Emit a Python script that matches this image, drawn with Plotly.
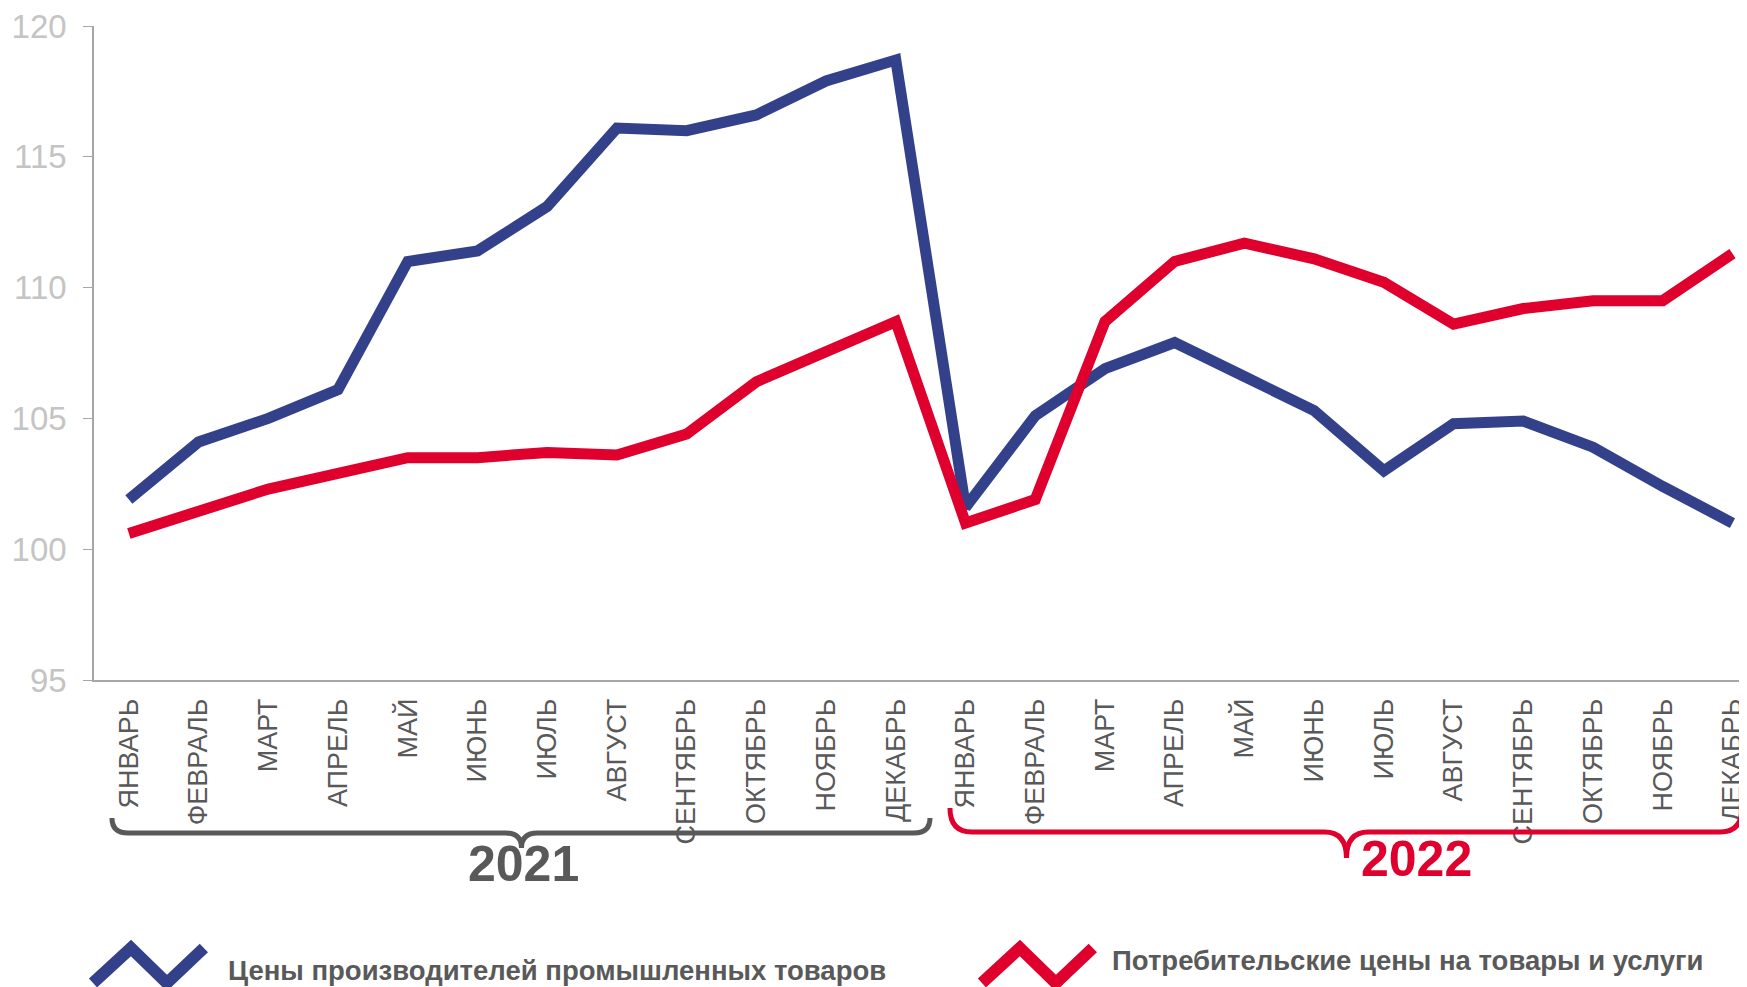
import plotly.graph_objects as go

months = ['ЯНВАРЬ', 'ФЕВРАЛЬ', 'МАРТ', 'АПРЕЛЬ', 'МАЙ', 'ИЮНЬ', 'ИЮЛЬ',
          'АВГУСТ', 'СЕНТЯБРЬ', 'ОКТЯБРЬ', 'НОЯБРЬ', 'ДЕКАБРЬ']
years = ['2021', '2022']
tick_labels = months * len(years)
x_idx = list(range(len(tick_labels)))

producer_prices = [101.9, 104.1, 105.0, 106.1, 111.0, 111.4, 113.1, 116.1, 116.0, 116.6, 117.9, 118.7,
                   101.6, 105.1, 106.9, 107.9, 106.6, 105.3, 103.0, 104.8, 104.9, 103.9, 102.4, 101.0]
consumer_prices = [100.6, 101.5, 102.3, 102.9, 103.5, 103.5, 103.7, 103.6, 104.4, 106.4, 107.6, 108.7,
                   101.0, 101.9, 108.7, 111.0, 111.7, 111.1, 110.2, 108.6, 109.2, 109.5, 109.5, 111.3]

BLUE = '#33418a'
RED = '#e0002d'
GRAY = '#595959'

# page body has an 8px margin, so the figure is drawn 8px in from the corner
OFF = 8
W, H = 1739, 979
L, R, T, B = 86, 0, 18, 307


def px(x):
    return (x - OFF - L) / (W - L - R)


def py(y):
    return (H - B - (y - OFF)) / (H - T - B)


def brace(x0, x1, xm, ytop, yline, ytip, r=16):
    # curly brace opening upward, in page pixels
    return (f'M {px(x0)},{py(ytop)} '
            f'Q {px(x0)},{py(yline)} {px(x0 + r)},{py(yline)} '
            f'L {px(xm - r)},{py(yline)} '
            f'Q {px(xm)},{py(yline)} {px(xm)},{py(ytip)} '
            f'Q {px(xm)},{py(yline)} {px(xm + r)},{py(yline)} '
            f'L {px(x1 - r)},{py(yline)} '
            f'Q {px(x1)},{py(yline)} {px(x1)},{py(ytop)}')


def zigzag(x0, y0):
    pts = [(x0, y0), (x0 + 38, y0 - 35), (x0 + 74, y0), (x0 + 111, y0 - 35)]
    return 'M ' + ' L '.join(f'{px(a)},{py(b)}' for a, b in pts)


def label(text, x, y, size, color, xanchor='center'):
    return dict(text=text, xref='paper', yref='paper', x=px(x), y=py(y),
                xanchor=xanchor, yanchor='middle', showarrow=False,
                font=dict(size=size, color=color))


fig = go.Figure([
    go.Scatter(x=x_idx, y=producer_prices, mode='lines',
               line=dict(color=BLUE, width=11), showlegend=False),
    go.Scatter(x=x_idx, y=consumer_prices, mode='lines',
               line=dict(color=RED, width=11), showlegend=False),
])

fig.update_layout(
    width=W, height=H,
    margin=dict(l=L, r=R, t=T, b=B),
    plot_bgcolor='white', paper_bgcolor='white',
    font=dict(family='Liberation Sans, Arial, sans-serif', color=GRAY),
    xaxis=dict(
        range=[-0.5, 23.18], tickvals=x_idx, ticktext=tick_labels,
        tickangle=-90, tickfont=dict(size=27, color=GRAY),
        showgrid=False, zeroline=False, showline=True,
        linecolor='#a6a6a6', linewidth=1.5, ticks='', ticklabelstandoff=6,
        ticklabeloverflow='allow',
    ),
    yaxis=dict(
        range=[95, 120], dtick=5, tickfont=dict(size=33, color='#c4c4c4'),
        showgrid=False, zeroline=False, showline=True,
        linecolor='#a6a6a6', linewidth=1.5, ticks='outside', ticklen=9,
        tickcolor='#a6a6a6', ticklabelstandoff=10,
        ticklabeloverflow='allow',
    ),
    shapes=[
        dict(type='path', xref='paper', yref='paper',
             path=brace(112, 931, 522, 818, 833, 848),
             line=dict(color=GRAY, width=5)),
        dict(type='path', xref='paper', yref='paper',
             path=brace(951, 1744, 1348, 808, 832, 858, r=22),
             line=dict(color=RED, width=5)),
        dict(type='path', xref='paper', yref='paper', path=zigzag(93, 983),
             line=dict(color=BLUE, width=12)),
        dict(type='path', xref='paper', yref='paper', path=zigzag(983, 983),
             line=dict(color=RED, width=12)),
        dict(type='line', xref='paper', yref='paper',
             x0=px(1744), x1=px(1744), y0=py(858), y1=py(965),
             line=dict(color='#f0b400', width=2)),
    ],
    annotations=[
        label('<b>2021</b>', 524, 864, 50, GRAY),
        label('<b>2022</b>', 1418, 859, 50, RED),
        label('<b>Цены производителей промышленных товаров</b>', 226, 971, 27.5, GRAY, 'left'),
        label('<b>Потребительские цены на товары и услуги</b>', 1111, 961, 27.5, GRAY, 'left'),
    ],
)

fig.write_html('out.html')
